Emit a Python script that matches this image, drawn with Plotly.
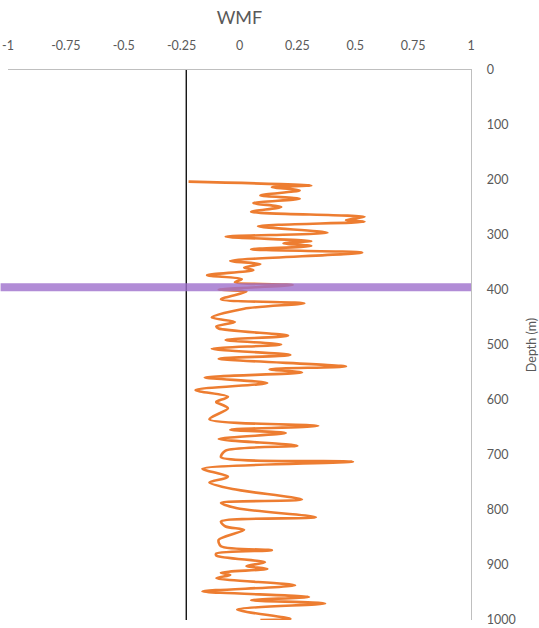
import plotly.graph_objects as go

# WMF profile against depth (m)
depth_m = [203, 210, 213, 219, 228, 234, 242, 249, 258, 267, 273, 276, 284, 296, 303,
           311, 315, 320, 326, 332, 347, 353, 359, 364, 373, 380, 386, 391, 399, 403,
           417, 424, 434, 450, 458, 466, 470, 483, 491, 499, 507, 518, 525, 539, 544,
           550, 559, 569, 582, 594, 603, 604, 615, 635, 647, 654, 660, 671, 683, 692,
           704, 712, 725, 739, 742, 750, 762, 781, 787, 797, 813, 821, 830, 836, 854,
           866, 873, 879, 883, 895, 902, 907, 914, 918, 924, 937, 948, 958, 964, 970,
           981, 998, 1000]
wmf = [-0.22, 0.31, 0.14, 0.26, 0.09, 0.26, 0.06, 0.18, 0.05, 0.54, 0.46, 0.54, 0.08, 0.38, -0.06,
       0.31, 0.19, 0.31, 0.05, 0.53, -0.04, 0.09, 0.02, 0.06, -0.14, 0.01, -0.02, 0.23, -0.09, 0.03,
       -0.08, 0.28, 0.02, -0.12, -0.02, -0.10, -0.09, 0.21, -0.06, 0.18, -0.12, 0.22, -0.09, 0.46, 0.13,
       0.27, -0.15, 0.12, -0.19, -0.05, -0.10, -0.10, -0.05, -0.13, 0.34, -0.04, 0.20, -0.09, 0.25, -0.06,
       -0.08, 0.49, -0.16, -0.05, -0.06, -0.13, -0.03, 0.27, -0.08, -0.01, 0.33, -0.08, -0.06, 0.02, -0.09,
       -0.08, 0.14, -0.10, -0.10, 0.11, 0.03, 0.12, -0.08, -0.04, -0.10, 0.24, -0.16, 0.30, 0.05, 0.37,
       -0.01, 0.22, 0.09]

# Reference markers
ref_value = -0.23          # vertical reference line
ref_depth_range = [0, 1000]
marker_depth = 395         # horizontal marker depth

x_ticks = [-1, -0.75, -0.5, -0.25, 0, 0.25, 0.5, 0.75, 1]
x_tick_text = ["-1", "-0.75", "-0.5", "-0.25", "0", "0.25", "0.5", "0.75", "1"]
y_ticks = list(range(0, 1001, 100))

FONT = "Lato, 'Open Sans', sans-serif"
GREY_TEXT = "#595959"
AXIS_GREY = "#BFBFBF"

fig = go.Figure()

fig.add_trace(go.Scatter(
    x=[ref_value, ref_value], y=ref_depth_range, mode="lines",
    line=dict(color="#000000", width=1.3), hoverinfo="skip", showlegend=False,
))

fig.add_trace(go.Scatter(
    x=wmf, y=depth_m, mode="lines",
    line=dict(color="#ED7D31", width=2.6, shape="spline", smoothing=0.8),
    showlegend=False, name="WMF",
))

# horizontal marker band, running slightly past the left edge of the plot
fig.add_shape(
    type="line", xref="paper", yref="y",
    x0=-0.016, x1=1, y0=marker_depth, y1=marker_depth,
    line=dict(color="rgba(157,111,204,0.8)", width=8), layer="above",
)

fig.update_layout(
    width=539, height=628,
    margin=dict(l=8, r=68, t=70, b=8, autoexpand=False),
    paper_bgcolor="white", plot_bgcolor="white",
    title=dict(text="WMF", x=(8 + 471) / 2 / 539, xanchor="center", y=1 - 18 / 628,
               yanchor="middle", font=dict(family=FONT, size=18, color=GREY_TEXT)),
    font=dict(family=FONT, color=GREY_TEXT),
    xaxis=dict(
        side="top", range=[-1, 1], tickvals=x_ticks, ticktext=x_tick_text,
        showgrid=False, zeroline=False, showline=True, linecolor=AXIS_GREY, linewidth=1.3,
        ticks="", ticklabelstandoff=14, tickfont=dict(size=12.5, color=GREY_TEXT),
        automargin=False,
    ),
    yaxis=dict(
        side="right", range=[1000, 0], tickvals=y_ticks,
        showgrid=False, zeroline=False, showline=True, linecolor=AXIS_GREY, linewidth=1.3,
        ticks="", ticklabelstandoff=12, tickfont=dict(size=12.5, color=GREY_TEXT),
        title=dict(text="Depth (m)", font=dict(size=12.5, color=GREY_TEXT), standoff=12),
        automargin=False,
    ),
)

fig.write_html("out.html")
